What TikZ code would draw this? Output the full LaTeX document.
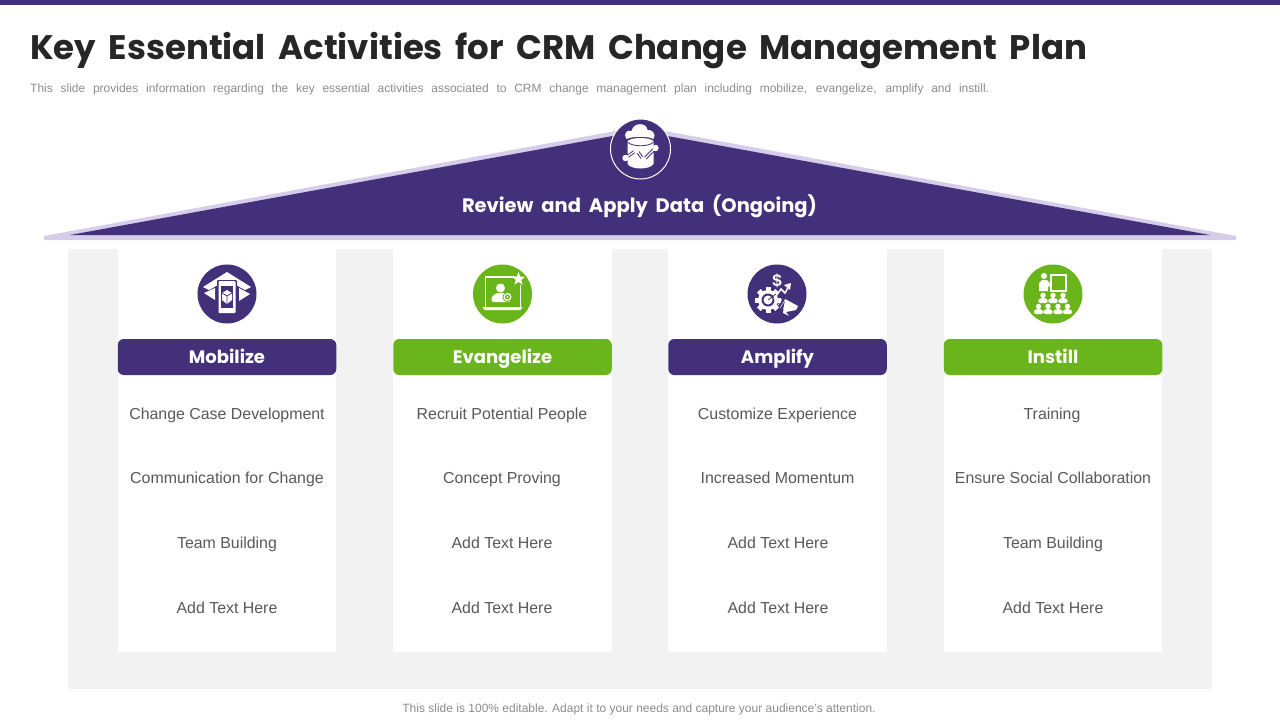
\documentclass[tikz,border=0pt]{standalone}
\usepackage{fontspec}
\setmainfont{Liberation Sans}
\newfontfamily\headfont{Poppins}
\usetikzlibrary{shapes.geometric}
\definecolor{plum}{HTML}{43307A}
\definecolor{lilac}{HTML}{D5CDEA}
\definecolor{leaf}{HTML}{6AB41C}
\definecolor{panel}{HTML}{F2F2F2}
\definecolor{ink}{HTML}{595959}
\definecolor{note}{HTML}{8C8C8C}
\tikzset{
	roundel/.style={circle,minimum size=59pt,inner sep=0pt},
	banner/.style={rounded corners=6pt,minimum width=218.5pt,minimum height=36pt,inner sep=0pt,text height=17pt,text depth=5pt,text=white,font=\headfont\fontsize{18}{18}\selectfont\bfseries},
	entry/.style={text=ink,font=\fontsize{15.9}{18}\selectfont,inner sep=0pt,text height=13pt,text depth=2pt},
	person/.pic={
		\fill[white] (0,-3.6) circle (2.7);
		\fill[white,rounded corners=1.5pt] (-4.6,4) -- (-4.6,0) -- (-2,-0.8) -- (2,-0.8) -- (4.6,0) -- (4.6,4) -- cycle;
	}
}
\begin{document}
\begin{tikzpicture}[x=1pt,y=-1pt]

	\useasboundingbox (0,0) rectangle (1280,720);
	\fill[plum] (0,0) rectangle (1280,5);

	\node[anchor=west,inner sep=0pt,text=black!85,font=\headfont\fontsize{34}{40}\selectfont\bfseries] (title) at (30,50.5) {\makebox[1057pt][s]{Key Essential Activities for CRM Change Management Plan}};
	\node[anchor=west,inner sep=0pt,text=note,font=\fontsize{12}{14}\selectfont] (lead) at (30,89) {\makebox[959pt][s]{This slide provides information regarding the key essential activities associated to CRM change management plan including mobilize, evangelize, amplify and instill.}};

	\coordinate (roofl) at (44,240);
	\coordinate (roofm) at (44,236);
	\coordinate (roofr) at (1236,240);
	\coordinate (roofn) at (1236,236);
	\coordinate (rooft) at (640,126.5);
	\coordinate (darkl) at (70,235);
	\coordinate (darkr) at (1210,235);
	\coordinate (darkt) at (640,131);
	\fill[lilac] (roofl) -- (roofm) -- (rooft) -- (roofn) -- (roofr) -- cycle;
	\fill[plum] (darkl) -- (darkt) -- (darkr) -- cycle;
	\node[circle,fill=plum,draw=white,line width=1pt,minimum size=60pt,inner sep=0pt] (dataicon) at (640.5,149) {};
	\node[text=white,inner sep=0pt,font=\headfont\fontsize{19.5}{22}\selectfont\bfseries] (roofname) at (639.5,206) {\makebox[355pt][s]{Review and Apply Data (Ongoing)}};

	\begin{scope}[shift={(dataicon.center)}]
		\fill[white] (-14,-10) .. controls (-18,-15) and (-13,-20) .. (-9,-18) .. controls (-7,-27) and (6,-27) .. (7,-19) .. controls (12,-20) and (16,-14) .. (13,-10) .. controls (8,-13) and (-8,-13) .. (-14,-10) -- cycle;
		\fill[white] (-13,-8) .. controls (-9,-12) and (9,-12) .. (13,-8) -- (13,15) .. controls (9,21) and (-9,21) .. (-13,15) -- cycle;
		\draw[plum,line width=.8pt] (-13,-7) .. controls (-9,-2) and (9,-2) .. (13,-7);
		\draw[plum,line width=3.2pt] (-15,9) -- (-4,1) -- (3,11) -- (15,-1);
		\draw[white,line width=1.3pt] (-15,9) -- (-4,1) -- (3,11) -- (15,-1);
		\foreach \px/\py in {-15/9,-4/1,3/11,15/-1}
			\fill[white] (\px,\py) circle (3.2);
	\end{scope}

	\fill[panel] (68,249) rectangle (1212,689);
	\foreach \lft/\rgt in {118/336,393/612,668/887,944/1162}
		\fill[white] (\lft,249) rectangle (\rgt,652);

	\node[roundel,fill=plum] (mobicon) at (227,294) {};
	\node[roundel,fill=leaf] (evaicon) at (502.5,294) {};
	\node[roundel,fill=plum] (ampicon) at (777,294) {};
	\node[roundel,fill=leaf] (insicon) at (1053,294) {};

	\begin{scope}[shift={(mobicon.center)}]
		\fill[white] (-24,-7) -- (0,-22) -- (24,-7) -- (18,-4) -- (0,-14) -- (-18,-4) -- cycle;
		\fill[white] (-23,-1) -- (-12,-6) -- (-12,6) -- cycle;
		\fill[white] (23,0) -- (12,-6) -- (12,7) -- cycle;
		\fill[plum,rounded corners=1pt] (-10,-14) rectangle (10,20);
		\fill[white,rounded corners=1pt] (-8.5,-13) rectangle (8.5,19);
		\fill[plum] (-6,-8) rectangle (6,14);
		\fill[white] (0,-4) -- (5,-1) -- (5,6) -- (0,10) -- (-5,6) -- (-5,-1) -- cycle;
		\draw[plum,line width=.7pt] (-5,-1) -- (0,2) -- (5,-1) (0,2) -- (0,10);
	\end{scope}

	\begin{scope}[shift={(evaicon.center)}]
		\draw[white,line width=1.4pt] (12,-17) -- (-17,-17) -- (-17,13) (18,-9) -- (18,13);
		\fill[white] (-20,13) -- (20,13) -- (18,16) -- (-18,16) -- cycle;
		\node[star,star points=5,star point ratio=2.4,fill=white,minimum size=14pt,inner sep=0pt] (evastar) at (16,-15) {};
		\fill[white] (-2,-6) circle (4.5);
		\fill[white,rounded corners=1.5pt] (-11,8) -- (-11,3) -- (-6,-1) -- (3,-1) -- (8,3) -- (8,8) -- cycle;
		\fill[leaf] (5,3) circle (5);
		\fill[white] (5,3) circle (4);
		\fill[leaf] (5,3) circle (2.6);
		\fill[white] (5,3) circle (1.2);
	\end{scope}

	\begin{scope}[shift={(ampicon.center)}]
		\node[text=white,inner sep=0pt,font=\fontsize{17}{17}\selectfont\bfseries] (dollar) at (0,-13) {\$};
		\foreach \tooth in {0,45,...,315}
			\fill[white,rotate around={\tooth:(-9,6)}] (-11.5,-7) rectangle (-6.5,-3);
		\fill[white] (-9,6) circle (10);
		\fill[plum] (-9,6) circle (6.5);
		\fill[white] (-9,6) circle (4.5);
		\draw[plum,line width=.8pt] (-9,6) -- (-1,0);
		\draw[white,line width=1.5pt] (-3,5) -- (4,-5) -- (8,-1) -- (12,-8);
		\fill[white] (14,-11) -- (7,-9) -- (13,-4) -- cycle;
		\draw[white,line width=.5pt] (5,5) -- (0,13) (8,6) -- (3,14) (11,7) -- (6,15);
		\fill[white] (8,5) -- (21,12) -- (19,16) -- (9,18) -- (12,22) -- (6,19) -- cycle;
	\end{scope}

	\begin{scope}[shift={(insicon.center)}]
		\draw[white,line width=1.1pt] (-2,-19) rectangle (13,-3);
		\fill[white] (-9,-18) circle (3);
		\fill[white] (-14,-3) -- (-14,-11) -- (-11,-14) -- (-6,-14) -- (-1,-8) -- (-2,-6.5) -- (-5,-8) -- (-5,-3) -- cycle;
		\foreach \px in {-10,0,10}
			\pic at (\px,5) {person};
		\foreach \px in {-14.5,-5,5,14.5}
			\pic at (\px,16) {person};
	\end{scope}

	\node[banner,fill=plum] (mobhead) at (227,357) {Mobilize};
	\node[banner,fill=leaf] (evahead) at (502.5,357) {Evangelize};
	\node[banner,fill=plum] (amphead) at (777.5,357) {Amplify};
	\node[banner,fill=leaf] (inshead) at (1053,357) {Instill};

	\node[entry] (moba) at (227,414) {Change Case Development};
	\node[entry] (mobb) at (227,478) {Communication for Change};
	\node[entry] (mobc) at (227,543) {Team Building};
	\node[entry] (mobd) at (227,608) {Add Text Here};

	\node[entry] (evaa) at (502,414) {Recruit Potential People};
	\node[entry] (evab) at (502,478) {Concept Proving};
	\node[entry] (evac) at (502,543) {Add Text Here};
	\node[entry] (evad) at (502,608) {Add Text Here};

	\node[entry] (ampa) at (777.5,414) {Customize Experience};
	\node[entry] (ampb) at (777.5,478) {Increased Momentum};
	\node[entry] (ampc) at (778,543) {Add Text Here};
	\node[entry] (ampd) at (778,608) {Add Text Here};

	\node[entry] (insa) at (1052,414) {Training};
	\node[entry] (insb) at (1053,478) {Ensure Social Collaboration};
	\node[entry] (insc) at (1053,543) {Team Building};
	\node[entry] (insd) at (1053,608) {Add Text Here};

	\node[inner sep=0pt,text=note,font=\fontsize{12}{14}\selectfont] (foot) at (639,709) {This slide is 100\% editable. Adapt it to your needs and capture your audience's attention.};

\end{tikzpicture}
\end{document}
